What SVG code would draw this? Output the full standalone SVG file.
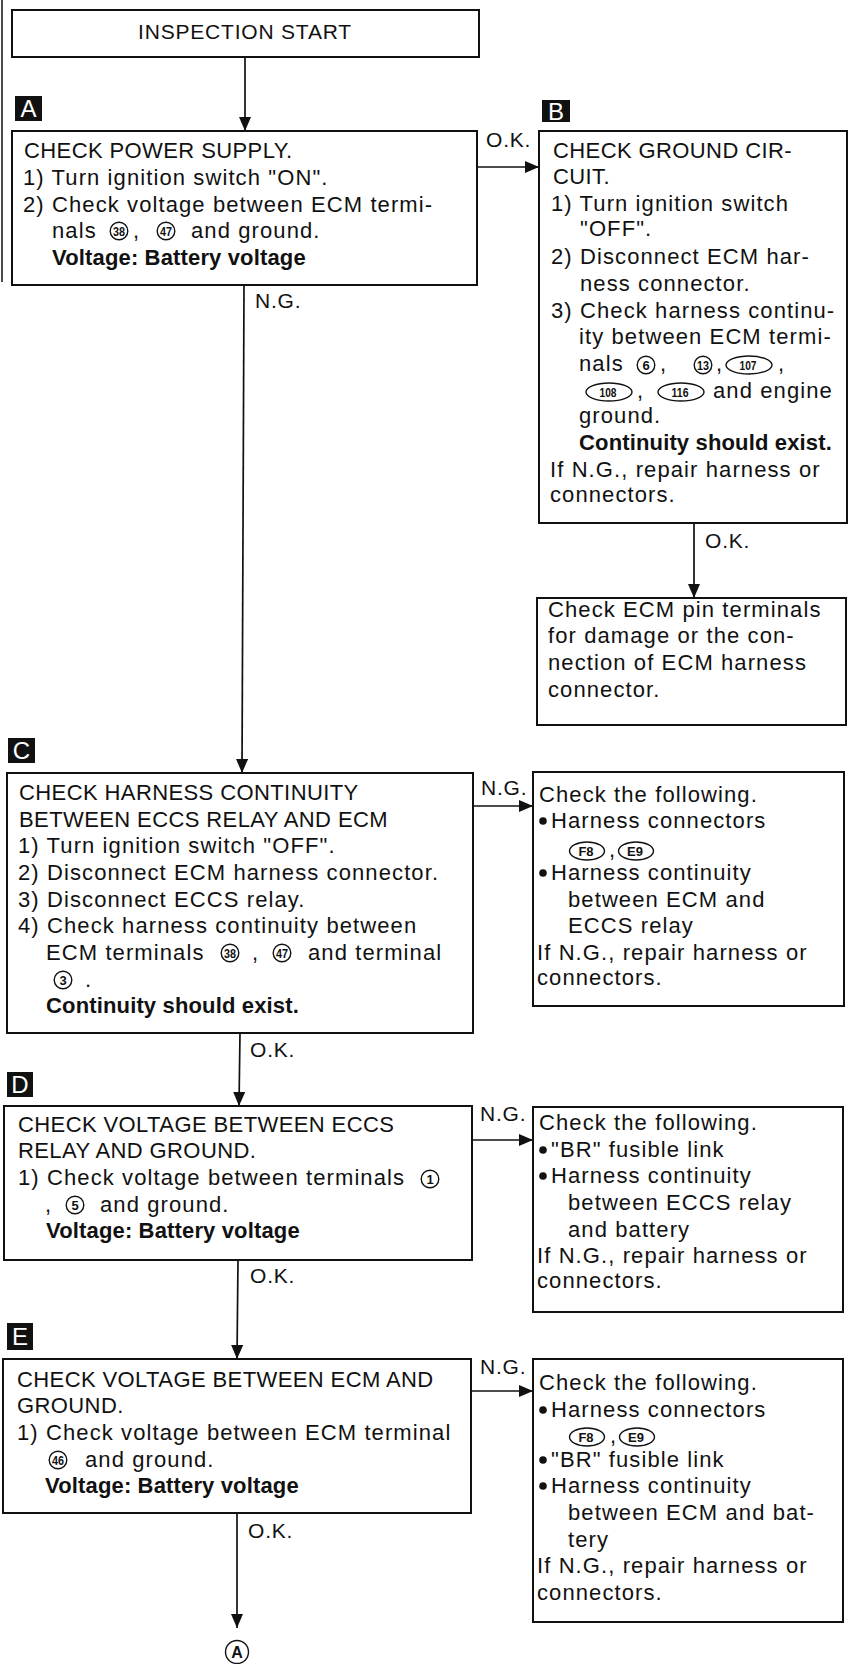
<svg xmlns="http://www.w3.org/2000/svg" width="853" height="1664" viewBox="0 0 853 1664">
<style>
text{font-family:"Liberation Sans",Arial,Helvetica,sans-serif;fill:#111}
.t{font-size:22px;letter-spacing:1.1px}
.c{font-size:22px;letter-spacing:0.4px}
.b{font-size:22px;font-weight:bold;letter-spacing:0.15px}
.lbl{font-size:21px;letter-spacing:0.8px}
.box{fill:#fff;stroke:#111;stroke-width:2}
.tag{fill:#111}
.tagt{font-size:24px;fill:#fff;text-anchor:middle}
.cn{fill:none;stroke:#111;stroke-width:1.4}
.cnt{font-size:13px;font-weight:bold;text-anchor:middle}
.ln{fill:none;stroke:#111;stroke-width:1.7}
.bul{fill:#111}
</style>
<defs>
<marker id="ah" viewBox="0 0 14 12" refX="14" refY="6" markerWidth="14" markerHeight="12" markerUnits="userSpaceOnUse" orient="auto"><path d="M0,0 L14,6 L0,12 z" fill="#111"/></marker>
</defs>
<line x1="2" y1="0" x2="2" y2="282" stroke="#111" stroke-width="1.5"/>
<g id="connectors">
<line class="ln" x1="245" y1="57" x2="245" y2="131" marker-end="url(#ah)"/>
<line class="ln" x1="477" y1="167" x2="539" y2="167" marker-end="url(#ah)"/>
<text class="lbl" x="486" y="147">O.K.</text>
<line class="ln" x1="244" y1="285" x2="242" y2="773" marker-end="url(#ah)"/>
<text class="lbl" x="255" y="308">N.G.</text>
<line class="ln" x1="694" y1="523" x2="694" y2="598" marker-end="url(#ah)"/>
<text class="lbl" x="705" y="548">O.K.</text>
<line class="ln" x1="473" y1="806" x2="533" y2="806" marker-end="url(#ah)"/>
<text class="lbl" x="481" y="795">N.G.</text>
<line class="ln" x1="240" y1="1033" x2="239" y2="1106" marker-end="url(#ah)"/>
<text class="lbl" x="250" y="1057">O.K.</text>
<line class="ln" x1="472" y1="1140" x2="533" y2="1140" marker-end="url(#ah)"/>
<text class="lbl" x="480" y="1121">N.G.</text>
<line class="ln" x1="238" y1="1260" x2="237" y2="1359" marker-end="url(#ah)"/>
<text class="lbl" x="250" y="1283">O.K.</text>
<line class="ln" x1="471" y1="1391" x2="533" y2="1391" marker-end="url(#ah)"/>
<text class="lbl" x="480" y="1374">N.G.</text>
<line class="ln" x1="237" y1="1513" x2="237" y2="1628" marker-end="url(#ah)"/>
<text class="lbl" x="248" y="1538">O.K.</text>
</g>
<g id="start">
<rect class="box" x="12" y="10" width="467" height="47"/>
<text class="lbl" x="245" y="39" text-anchor="middle">INSPECTION START</text>
</g>
<g id="nodeA">
<rect class="tag" x="15" y="96" width="27" height="25"/>
<text class="tagt" x="28.5" y="117">A</text>
<rect class="box" x="12" y="131" width="465" height="154"/>
<text class="c" x="24" y="158">CHECK POWER SUPPLY.</text>
<text class="t" x="23" y="185">1) Turn ignition switch "ON".</text>
<text class="t" x="23" y="212">2) Check voltage between ECM termi-</text>
<text class="t" x="52" y="238">nals</text>
<circle class="cn" cx="119" cy="231" r="8.8"/><text class="cnt" x="119" y="235.5" textLength="12" lengthAdjust="spacingAndGlyphs">38</text>
<text class="t" x="133" y="238">,</text>
<circle class="cn" cx="166" cy="231" r="8.8"/><text class="cnt" x="166" y="235.5" textLength="12" lengthAdjust="spacingAndGlyphs">47</text>
<text class="t" x="191" y="238">and ground.</text>
<text class="b" x="52" y="265">Voltage: Battery voltage</text>
</g>
<g id="nodeB">
<rect class="tag" x="542" y="100" width="28" height="22"/>
<text class="tagt" x="556" y="120">B</text>
<rect class="box" x="539" y="131" width="308" height="392"/>
<text class="c" x="553" y="158">CHECK GROUND CIR-</text>
<text class="c" x="553" y="184">CUIT.</text>
<text class="t" x="551" y="211">1) Turn ignition switch</text>
<text class="t" x="580" y="236">"OFF".</text>
<text class="t" x="551" y="264">2) Disconnect ECM har-</text>
<text class="t" x="580" y="291">ness connector.</text>
<text class="t" x="551" y="318">3) Check harness continu-</text>
<text class="t" x="579" y="344">ity between ECM termi-</text>
<text class="t" x="579" y="371">nals</text>
<circle class="cn" cx="646" cy="365" r="8.8"/><text class="cnt" x="646" y="369.5">6</text>
<text class="t" x="660" y="371">,</text>
<circle class="cn" cx="703" cy="365" r="8.8"/><text class="cnt" x="703" y="369.5" textLength="12" lengthAdjust="spacingAndGlyphs">13</text>
<text class="t" x="716" y="371">,</text>
<ellipse class="cn" cx="749" cy="365" rx="23" ry="9"/><text class="cnt" x="748" y="369.5" textLength="17" lengthAdjust="spacingAndGlyphs">107</text>
<text class="t" x="778" y="371">,</text>
<ellipse class="cn" cx="609" cy="392" rx="23" ry="9"/><text class="cnt" x="608" y="396.5" textLength="17" lengthAdjust="spacingAndGlyphs">108</text>
<text class="t" x="637" y="398">,</text>
<ellipse class="cn" cx="681" cy="392" rx="23" ry="9"/><text class="cnt" x="680" y="396.5" textLength="17" lengthAdjust="spacingAndGlyphs">116</text>
<text class="t" x="713" y="398">and engine</text>
<text class="t" x="579" y="423">ground.</text>
<text class="b" x="579" y="450">Continuity should exist.</text>
<text class="t" x="550" y="477">If N.G., repair harness or</text>
<text class="t" x="550" y="502">connectors.</text>
</g>
<g id="nodeB2">
<rect class="box" x="537" y="598" width="309" height="127"/>
<text class="t" x="548" y="617">Check ECM pin terminals</text>
<text class="t" x="548" y="643">for damage or the con-</text>
<text class="t" x="548" y="670">nection of ECM harness</text>
<text class="t" x="548" y="697">connector.</text>
</g>
<g id="nodeC">
<rect class="tag" x="8" y="738" width="27" height="25"/>
<text class="tagt" x="21.5" y="759">C</text>
<rect class="box" x="7" y="773" width="466" height="260"/>
<text class="c" x="19" y="800">CHECK HARNESS CONTINUITY</text>
<text class="c" x="19" y="827">BETWEEN ECCS RELAY AND ECM</text>
<text class="t" x="18" y="853">1) Turn ignition switch "OFF".</text>
<text class="t" x="18" y="880">2) Disconnect ECM harness connector.</text>
<text class="t" x="18" y="907">3) Disconnect ECCS relay.</text>
<text class="t" x="18" y="933">4) Check harness continuity between</text>
<text class="t" x="46" y="960">ECM terminals</text>
<circle class="cn" cx="230" cy="953" r="8.8"/><text class="cnt" x="230" y="957.5" textLength="12" lengthAdjust="spacingAndGlyphs">38</text>
<text class="t" x="252" y="960">,</text>
<circle class="cn" cx="282" cy="953" r="8.8"/><text class="cnt" x="282" y="957.5" textLength="12" lengthAdjust="spacingAndGlyphs">47</text>
<text class="t" x="308" y="960">and terminal</text>
<circle class="cn" cx="63" cy="980" r="8.8"/><text class="cnt" x="63" y="984.5">3</text>
<text class="t" x="85" y="987">.</text>
<text class="b" x="46" y="1013">Continuity should exist.</text>
</g>
<g id="nodeC2">
<rect class="box" x="533" y="772" width="311" height="234"/>
<text class="t" x="539" y="802">Check the following.</text>
<circle class="bul" cx="543" cy="821" r="3.8"/>
<text class="t" x="551" y="828">Harness connectors</text>
<ellipse class="cn" cx="587" cy="851" rx="17.5" ry="9"/><text class="cnt" x="586" y="855.5">F8</text>
<text class="t" x="609" y="857">,</text>
<ellipse class="cn" cx="636" cy="851" rx="17.5" ry="9"/><text class="cnt" x="635" y="855.5">E9</text>
<circle class="bul" cx="543" cy="873" r="3.8"/>
<text class="t" x="551" y="880">Harness continuity</text>
<text class="t" x="568" y="907">between ECM and</text>
<text class="t" x="568" y="933">ECCS relay</text>
<text class="t" x="537" y="960">If N.G., repair harness or</text>
<text class="t" x="537" y="985">connectors.</text>
</g>
<g id="nodeD">
<rect class="tag" x="7" y="1072" width="26" height="25"/>
<text class="tagt" x="20" y="1093">D</text>
<rect class="box" x="4" y="1106" width="468" height="154"/>
<text class="c" x="18" y="1132">CHECK VOLTAGE BETWEEN ECCS</text>
<text class="c" x="18" y="1158">RELAY AND GROUND.</text>
<text class="t" x="18" y="1185">1) Check voltage between terminals</text>
<circle class="cn" cx="430" cy="1179" r="8.8"/><text class="cnt" x="430" y="1183.5">1</text>
<text class="t" x="45" y="1212">,</text>
<circle class="cn" cx="75" cy="1205" r="8.8"/><text class="cnt" x="75" y="1209.5">5</text>
<text class="t" x="100" y="1212">and ground.</text>
<text class="b" x="46" y="1238">Voltage: Battery voltage</text>
</g>
<g id="nodeD2">
<rect class="box" x="533" y="1107" width="310" height="205"/>
<text class="t" x="539" y="1130">Check the following.</text>
<circle class="bul" cx="543" cy="1150" r="3.8"/>
<text class="t" x="551" y="1157">"BR" fusible link</text>
<circle class="bul" cx="543" cy="1176" r="3.8"/>
<text class="t" x="551" y="1183">Harness continuity</text>
<text class="t" x="568" y="1210">between ECCS relay</text>
<text class="t" x="568" y="1237">and battery</text>
<text class="t" x="537" y="1263">If N.G., repair harness or</text>
<text class="t" x="537" y="1288">connectors.</text>
</g>
<g id="nodeE">
<rect class="tag" x="7" y="1323" width="26" height="27"/>
<text class="tagt" x="20" y="1345">E</text>
<rect class="box" x="3" y="1359" width="468" height="154"/>
<text class="c" x="17" y="1387">CHECK VOLTAGE BETWEEN ECM AND</text>
<text class="c" x="17" y="1413">GROUND.</text>
<text class="t" x="17" y="1440">1) Check voltage between ECM terminal</text>
<circle class="cn" cx="58" cy="1460" r="8.8"/><text class="cnt" x="58" y="1464.5" textLength="12" lengthAdjust="spacingAndGlyphs">46</text>
<text class="t" x="85" y="1467">and ground.</text>
<text class="b" x="45" y="1493">Voltage: Battery voltage</text>
</g>
<g id="nodeE2">
<rect class="box" x="533" y="1359" width="310" height="263"/>
<text class="t" x="539" y="1390">Check the following.</text>
<circle class="bul" cx="543" cy="1410" r="3.8"/>
<text class="t" x="551" y="1417">Harness connectors</text>
<ellipse class="cn" cx="587" cy="1437" rx="17.5" ry="9"/><text class="cnt" x="586" y="1441.5">F8</text>
<text class="t" x="610" y="1443">,</text>
<ellipse class="cn" cx="637" cy="1437" rx="17.5" ry="9"/><text class="cnt" x="636" y="1441.5">E9</text>
<circle class="bul" cx="543" cy="1460" r="3.8"/>
<text class="t" x="551" y="1467">"BR" fusible link</text>
<circle class="bul" cx="543" cy="1486" r="3.8"/>
<text class="t" x="551" y="1493">Harness continuity</text>
<text class="t" x="568" y="1520">between ECM and bat-</text>
<text class="t" x="568" y="1547">tery</text>
<text class="t" x="537" y="1573">If N.G., repair harness or</text>
<text class="t" x="537" y="1600">connectors.</text>
</g>
<g id="nodeA-ref">
<circle class="cn" cx="237" cy="1652" r="11.5" stroke-width="1.6"/>
<text x="237" y="1658" font-size="16" font-weight="bold" text-anchor="middle">A</text>
</g>
</svg>
